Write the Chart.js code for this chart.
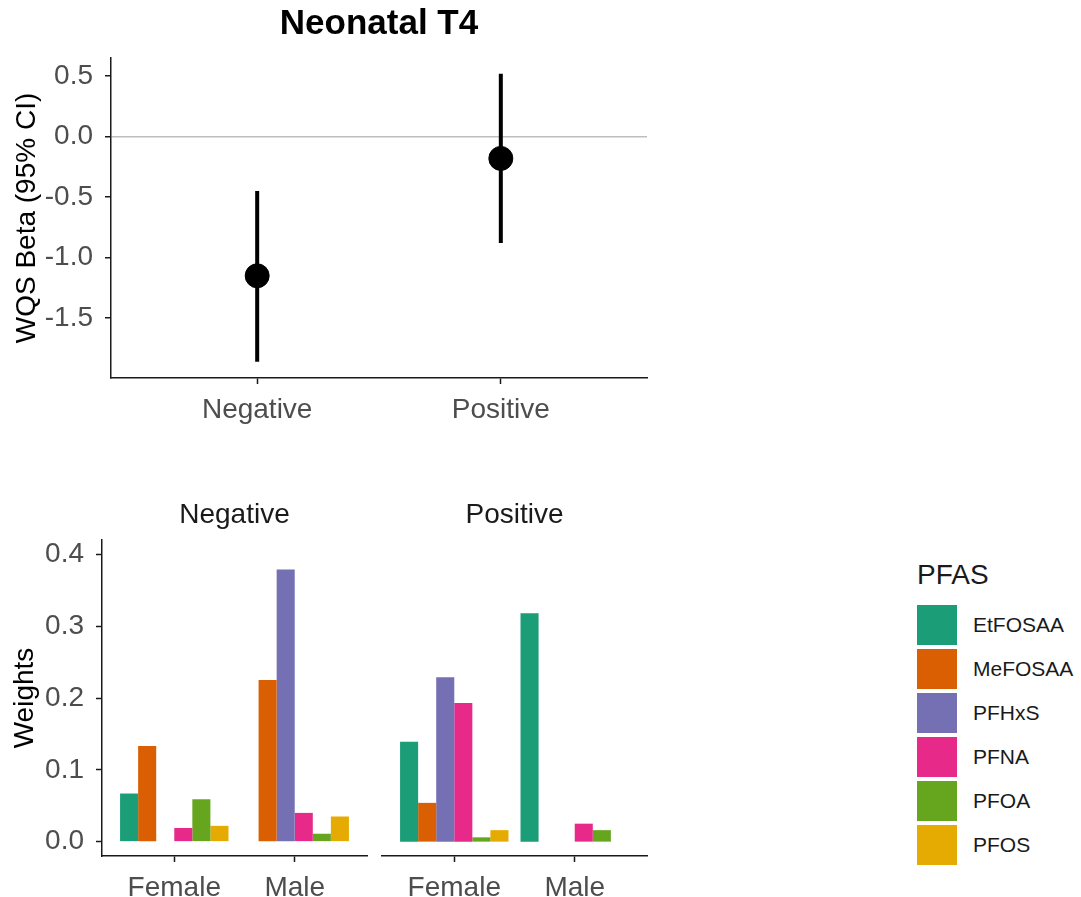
<!DOCTYPE html>
<html>
<head>
<meta charset="utf-8">
<script src="https://cdn.jsdelivr.net/npm/chart.js@4"></script>
<style>
  body { margin: 0; background: #fff; width: 1081px; height: 897px; position: relative; overflow: hidden;
         font-family: "Liberation Sans", Arial, sans-serif; }
  canvas { position: absolute; }
  #legend { position: absolute; left: 917px; top: 559px; color: #1a1a1a; }
  #legend .ttl { font-size: 28px; line-height: 32px; margin-bottom: 12px; }
  #legend .row { display: flex; align-items: center; height: 44px; }
  #legend .key { width: 40px; height: 40px; margin-right: 16px; }
  #legend .lab { font-size: 21px; }
</style>
</head>
<body>
<canvas id="betaChart" width="660" height="440" style="left:0;top:0"></canvas>
<canvas id="negChart" width="375" height="417" style="left:0;top:480px"></canvas>
<canvas id="posChart" width="280" height="417" style="left:375px;top:480px"></canvas>
<div id="legend"></div>
<script>
// top panel: WQS beta with 95% CI
const groups = ['Negative', 'Positive'];
const betaEst = [-1.15, -0.18];
const ciLower = [-1.86, -0.88];
const ciUpper = [-0.45, 0.52];
const betaTicks = [0.5, 0, -0.5, -1, -1.5];

// bottom panels: weights
const pfasNames = ['EtFOSAA', 'MeFOSAA', 'PFHxS', 'PFNA', 'PFOA', 'PFOS'];
const pfasColors = ['#1B9E77', '#D95F02', '#7570B3', '#E7298A', '#66A61E', '#E6AB02'];
const sexes = ['Female', 'Male'];
const negFemale = [0.067, 0.133, 0, 0.019, 0.059, 0.022];
const negMale = [0, 0.225, 0.379, 0.040, 0.011, 0.035];
const posFemale = [0.139, 0.054, 0.229, 0.193, 0.006, 0.016];
const posMale = [0.318, 0, 0, 0.025, 0.016, 0];
const weightTicks = [0, 0.1, 0.2, 0.3, 0.4];

Chart.defaults.font.family = '"Liberation Sans", Arial, sans-serif';
Chart.defaults.color = '#4D4D4D';
Chart.defaults.animation = false;

const tickFont = { size: 28 };
const axisColor = '#1a1a1a';

new Chart(document.getElementById('betaChart'), {
    type: 'scatter',
    data: {
        datasets: [
            ...groups.map((g, i) => ({
                data: [{ x: i + 1, y: ciLower[i] }, { x: i + 1, y: ciUpper[i] }],
                showLine: true,
                borderColor: '#000',
                borderWidth: 4,
                pointRadius: 0
            })),
            {
                data: groups.map((g, i) => ({ x: i + 1, y: betaEst[i] })),
                backgroundColor: '#000',
                borderColor: '#000',
                pointRadius: 12
            }
        ]
    },
    options: {
        responsive: false,
        layout: { padding: { right: 12 } },
        plugins: {
            legend: { display: false },
            tooltip: { enabled: false },
            title: {
                display: true,
                text: 'Neonatal T4',
                fullSize: false,
                color: '#000',
                font: { size: 35, weight: 'bold' },
                padding: { top: 3, bottom: 13 }
            }
        },
        scales: {
            x: {
                type: 'linear',
                min: 0.4,
                max: 2.6,
                offset: false,
                afterBuildTicks: s => { s.ticks = groups.map((g, i) => ({ value: i + 1 })); },
                afterFit: s => { s.height = 62; },
                ticks: { font: tickFont, padding: 9, callback: v => groups[v - 1] },
                grid: { drawOnChartArea: false, tickLength: 6, tickColor: axisColor, tickWidth: 1.5, offset: false },
                border: { color: axisColor, width: 1.5 }
            },
            y: {
                min: -1.995,
                max: 0.65,
                afterBuildTicks: s => { s.ticks = betaTicks.map(v => ({ value: v })); },
                afterFit: s => { s.width = 111; },
                ticks: { font: tickFont, padding: 12, callback: v => v.toFixed(1) },
                grid: {
                    color: c => (c.tick && c.tick.value === 0 ? '#BEBEBE' : 'rgba(0,0,0,0)'),
                    lineWidth: 1.5,
                    tickLength: 6,
                    tickColor: axisColor,
                    tickWidth: 1.5
                },
                border: { color: axisColor, width: 1.5 },
                title: {
                    display: true,
                    text: 'WQS Beta (95% CI)',
                    color: '#000',
                    font: { size: 28 },
                    padding: { top: 10 }
                }
            }
        }
    }
});

function weightPanel(id, title, femaleVals, maleVals, showY, pad) {
    return new Chart(document.getElementById(id), {
        type: 'bar',
        data: {
            datasets: pfasNames.map((name, i) => ({
                label: name,
                data: [{ x: 1, y: femaleVals[i] }, { x: 2, y: maleVals[i] }],
                backgroundColor: pfasColors[i],
                borderWidth: 0
            }))
        },
        options: {
            responsive: false,
            categoryPercentage: 0.9,
            barPercentage: 1,
            layout: { padding: pad },
            plugins: {
                legend: { display: false },
                tooltip: { enabled: false },
                title: {
                    display: true,
                    text: title,
                    fullSize: false,
                    color: '#1A1A1A',
                    font: { size: 28, weight: 'normal' },
                    padding: { top: 18, bottom: 8.4 }
                }
            },
            scales: {
                x: {
                    type: 'linear',
                    min: 0.4,
                    max: 2.6,
                    offset: false,
                    afterBuildTicks: s => { s.ticks = sexes.map((g, i) => ({ value: i + 1 })); },
                    afterFit: s => { s.height = 41; },
                    ticks: { font: tickFont, padding: 9, callback: v => sexes[v - 1] },
                    grid: { drawOnChartArea: false, tickLength: 6, tickColor: axisColor, tickWidth: 1.5, offset: false },
                    border: { color: axisColor, width: 1.5 }
                },
                y: {
                    display: showY,
                    min: -0.02,
                    max: 0.42,
                    afterBuildTicks: s => { s.ticks = weightTicks.map(v => ({ value: v })); },
                    afterFit: s => { s.width = showY ? 102 : 0; },
                    ticks: { font: tickFont, padding: 12, callback: v => v.toFixed(1) },
                    grid: { drawOnChartArea: false, tickLength: 6, tickColor: axisColor, tickWidth: 1.5 },
                    border: { color: axisColor, width: 1.5 },
                    title: {
                        display: true,
                        text: 'Weights',
                        color: '#000',
                        font: { size: 28 },
                        padding: { top: 8 }
                    }
                }
            }
        }
    });
}

weightPanel('negChart', 'Negative', negFemale, negMale, true, { right: 8 });
weightPanel('posChart', 'Positive', posFemale, posMale, false, { left: 7, right: 8 });

// legend
const legend = document.getElementById('legend');
let html = '<div class="ttl">PFAS</div>';
pfasNames.forEach((name, i) => {
    html += '<div class="row"><div class="key" style="background:' + pfasColors[i] + '"></div>' +
            '<div class="lab">' + name + '</div></div>';
});
legend.innerHTML = html;
</script>
</body>
</html>
